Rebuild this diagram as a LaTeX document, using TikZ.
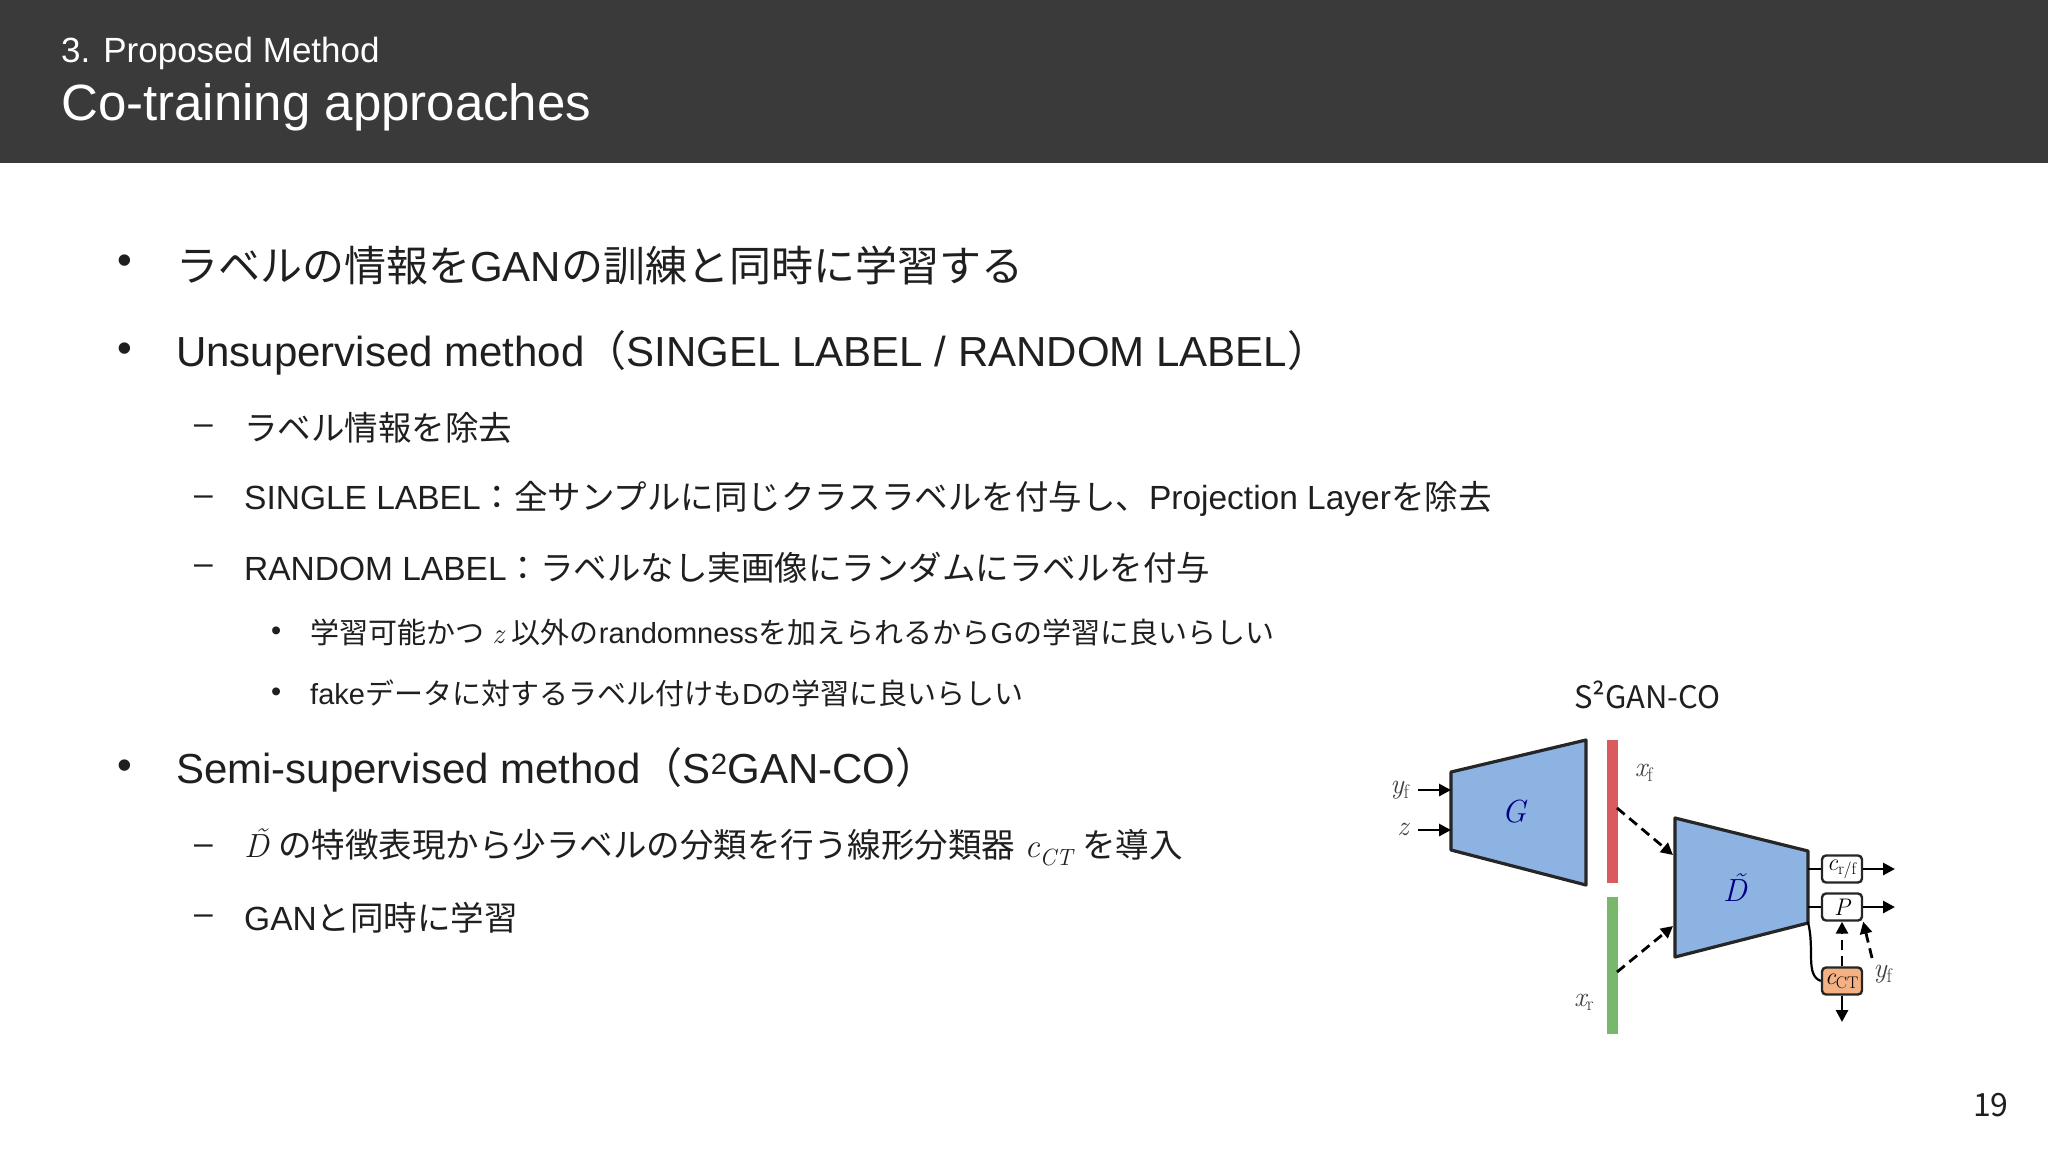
\documentclass[tikz,border=0pt]{standalone}
\usepackage{fontspec}
\setmainfont{Liberation Sans}
\newfontfamily\cjkf{Noto Sans CJK JP}
\newfontfamily\lmr{Latin Modern Roman}
\newcommand{\jp}[1]{{\cjkf #1}}
\newcommand{\mi}[1]{{\lmr\itshape #1}}
\newcommand{\sub}[1]{\textsubscript{#1}}
\newcommand{\tD}{\ooalign{D\cr\hidewidth\kern0.12em\raisebox{0.22em}{˜}\hidewidth}}
\usetikzlibrary{arrows.meta}
\definecolor{hdr}{HTML}{3A3A3A}
\definecolor{netblue}{HTML}{8DB3E2}
\definecolor{barred}{HTML}{DB5A5E}
\definecolor{bargreen}{HTML}{78B86C}
\definecolor{ctorange}{HTML}{F4B183}
\begin{document}
\begin{tikzpicture}[x={(1pt,0)},y={(0,-1pt)},
  txt/.style={anchor=west,inner sep=0pt,text=black!88},
  big/.style={txt,font=\fontsize{42}{44}\selectfont},
  mid/.style={txt,font=\fontsize{33.5}{35}\selectfont},
  sml/.style={txt,font=\fontsize{29}{31}\selectfont},
  net/.style={draw=black!85,line width=3.2pt,fill=netblue,line join=round},
  obox/.style={draw=black!85,line width=2.4pt,rounded corners=4pt,minimum width=40pt,minimum height=27pt,inner sep=0pt,font=\lmr\itshape\fontsize{24}{24}\selectfont},
  arr/.style={line width=2.8pt,-{Triangle[length=12pt,width=12pt]}},
  darr/.style={arr,dash pattern=on 10pt off 6pt},
  dlab/.style={inner sep=0pt,font=\lmr\itshape\fontsize{28}{28}\selectfont,text=black!75}]
\useasboundingbox (0,0) rectangle (2048,1152);
\fill[white] (0,0) rectangle (2048,1152);
\fill[hdr] (0,0) rectangle (2048,163);
\node[txt,text=white,font=\fontsize{35}{36}\selectfont] (h1) at (61,53) {3. Proposed Method};
\node[txt,text=white,font=\fontsize{51}{52}\selectfont] (h2) at (61,107) {Co-training approaches};
% bullets
\node[big] (b1d) at (117,265) {•};
\node[big] (b1) at (176,265) {\jp{ラベルの情報を}GAN\jp{の訓練と同時に学習する}};
\node[big] (b2d) at (117,353) {•};
\node[big] (b2) at (176,353) {Unsupervised method\jp{（}SINGEL LABEL / RANDOM LABEL\jp{）}};
\node[mid] (d1d) at (194,430) {–};
\node[mid] (d1) at (244,428) {\jp{ラベル情報を除去}};
\node[mid] (d2d) at (194,501) {–};
\node[mid] (d2) at (244,499) {SINGLE LABEL\jp{：全サンプルに同じクラスラベルを付与し、}Projection Layer\jp{を除去}};
\node[mid] (d3d) at (194,570) {–};
\node[mid] (d3) at (244,568) {RANDOM LABEL\jp{：ラベルなし実画像にランダムにラベルを付与}};
\node[sml] (s1d) at (271,634) {•};
\node[sml] (s1) at (310,632) {\jp{学習可能かつ} \mi{z} \jp{以外の}randomness\jp{を加えられるから}G\jp{の学習に良いらしい}};
\node[sml] (s2d) at (271,695) {•};
\node[sml] (s2) at (310,693) {fake\jp{データに対するラベル付けも}D\jp{の学習に良いらしい}};
\node[big] (b3d) at (117,770) {•};
\node[big] (b3) at (176,770) {Semi-supervised method\jp{（}S\textsuperscript{2}GAN-CO\jp{）}};
\node[mid] (e1d) at (194,850) {–};
\node[mid] (e1) at (244,848) {\mi{\tD} \jp{の特徴表現から少ラベルの分類を行う線形分類器} \mi{c\sub{CT}} \jp{を導入}};
\node[mid] (e2d) at (194,920) {–};
\node[mid] (e2) at (244,918) {GAN\jp{と同時に学習}};
\node[txt,font=\cjkf\fontsize{31}{32}\selectfont] (lab) at (1574,695) {S²GAN-CO};
\node[txt,font=\cjkf\fontsize{32}{32}\selectfont] (pg) at (1973,1105) {19};
% diagram
\draw[net] (1451,772) -- (1586,740) -- (1586,885) -- (1451,850) -- cycle;
\node[dlab,text=blue!50!black,font=\lmr\itshape\fontsize{32}{32}\selectfont] (G) at (1514,812) {G};
\node[dlab] (yf) at (1400,790) {y\sub{\upshape f}};
\node[dlab] (z) at (1403,829) {z};
\coordinate (gy) at (1451,790); \coordinate (gz) at (1451,830);
\draw[arr] (1418,790) -- (gy);
\draw[arr] (1418,830) -- (gz);
\draw[barred,line width=11pt] (1612,740) -- (1612,883);
\draw[bargreen,line width=11pt] (1612,897) -- (1612,1034);
\node[dlab] (xf) at (1644,773) {x\sub{\upshape f}};
\node[dlab] (xr) at (1584,1002) {x\sub{\upshape r}};
\draw[net] (1675,818) -- (1808,851) -- (1808,923) -- (1675,957) -- cycle;
\node[dlab,text=blue!50!black,font=\lmr\itshape\fontsize{32}{32}\selectfont] (D) at (1735,891) {\tD};
\coordinate (fo) at (1617,808); \coordinate (ro) at (1617,972);
\coordinate (din1) at (1673,855); \coordinate (din2) at (1673,926);
\draw[darr] (fo) -- (din1);
\draw[darr] (ro) -- (din2);
\node[obox,fill=white] (c) at (1842,869) {c\sub{\upshape r/f}};
\node[obox,fill=white] (P) at (1842,907) {P};
\node[obox,fill=ctorange] (cct) at (1842,981) {c\sub{\upshape CT}};
\coordinate (o1) at (1895,869); \coordinate (o2) at (1895,907); \coordinate (o3) at (1842,1022);
\draw[line width=2.4pt] (1808,869) -- (c.west);
\draw[line width=2.4pt] (1808,907) -- (P.west);
\draw[arr] (c.east) -- (o1);
\draw[arr] (P.east) -- (o2);
\draw[line width=2.2pt] (1808,922) .. controls (1815,950) and (1805,975) .. (cct.west);
\draw[darr] (cct.north) -- (P.south);
\node[dlab] (yf2) at (1883,974) {y\sub{\upshape f}};
\draw[darr] (1872,958) -- (P.south east);
\draw[arr] (cct.south) -- (o3);
\end{tikzpicture}
\end{document}
